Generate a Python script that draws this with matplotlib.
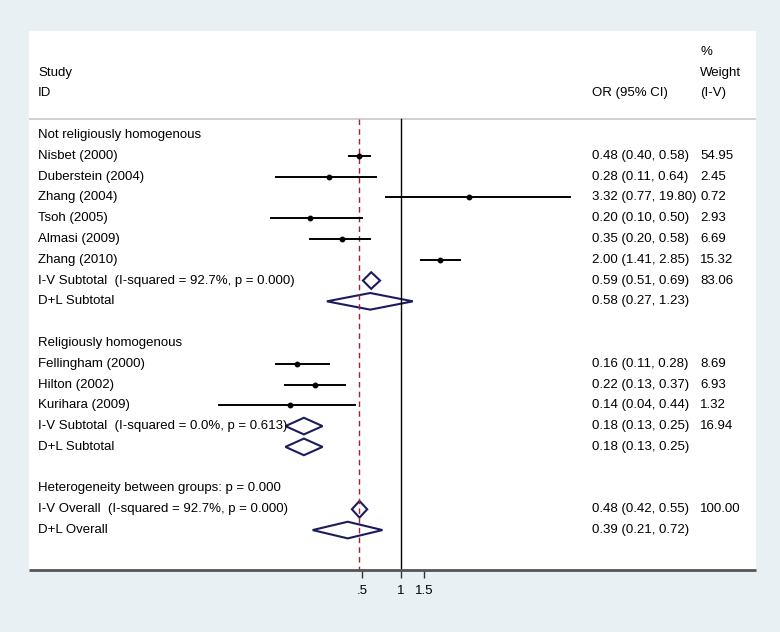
import numpy as np
import matplotlib
matplotlib.use("Agg")
import matplotlib.pyplot as plt
import matplotlib.transforms as mtransforms
from matplotlib.patches import Polygon

plt.rcParams['font.family'] = ['Liberation Sans', 'DejaVu Sans']

# rows of the forest plot, top to bottom
labels = [
    "Not religiously homogenous",
    "Nisbet (2000)", "Duberstein (2004)", "Zhang (2004)", "Tsoh (2005)",
    "Almasi (2009)", "Zhang (2010)",
    "I-V Subtotal  (I-squared = 92.7%, p = 0.000)", "D+L Subtotal",
    "",
    "Religiously homogenous",
    "Fellingham (2000)", "Hilton (2002)", "Kurihara (2009)",
    "I-V Subtotal  (I-squared = 0.0%, p = 0.613)", "D+L Subtotal",
    "",
    "Heterogeneity between groups: p = 0.000",
    "I-V Overall  (I-squared = 92.7%, p = 0.000)", "D+L Overall",
]
# kind: h = heading, s = study, d = diamond, n = nothing
kinds = ["h", "s", "s", "s", "s", "s", "s", "d", "d", "n",
         "h", "s", "s", "s", "d", "d", "n", "h", "d", "d"]
est = [None, 0.48, 0.28, 3.32, 0.20, 0.35, 2.00, 0.59, 0.58, None,
       None, 0.16, 0.22, 0.14, 0.18, 0.18, None, None, 0.48, 0.39]
lo = [None, 0.40, 0.11, 0.77, 0.10, 0.20, 1.41, 0.51, 0.27, None,
      None, 0.11, 0.13, 0.04, 0.13, 0.13, None, None, 0.42, 0.21]
hi = [None, 0.58, 0.64, 19.80, 0.50, 0.58, 2.85, 0.69, 1.23, None,
      None, 0.28, 0.37, 0.44, 0.25, 0.25, None, None, 0.55, 0.72]
weights = ["", "54.95", "2.45", "0.72", "2.93", "6.69", "15.32", "83.06", "", "",
           "", "8.69", "6.93", "1.32", "16.94", "", "", "", "100.00", ""]
overall_iv = 0.48

xticks = [0.5, 1, 1.5]
xticklabels = [".5", "1", "1.5"]

bg = "#e9f0f3"
navy = "#1b1b5e"
red = "#9b2335"
fs = 9.5

fig = plt.figure(figsize=(7.8, 6.32), dpi=100, facecolor=bg)
ax = fig.add_axes([29 / 780, (632 - 570) / 632, 727 / 780, 539 / 632])
ax.set_facecolor("white")
ax.set_xscale("log")
ax.set_xlim(0.00141, 523.6)
ax.set_ylim(20.92, -5.0)

for s in ["top", "left", "right"]:
    ax.spines[s].set_visible(False)
ax.spines["bottom"].set_color("#555555")
ax.spines["bottom"].set_linewidth(2)
ax.spines["bottom"].set_capstyle("butt")
ax.set_yticks([])
ax.set_xticks(xticks)
ax.set_xticklabels(xticklabels, fontsize=fs)
ax.xaxis.set_minor_locator(matplotlib.ticker.NullLocator())
ax.tick_params(axis="x", length=6, width=1, color="#333333", pad=5)

tr = mtransforms.blended_transform_factory(ax.transAxes, ax.transData)

# header
sep = -0.77
ax.axhline(sep, color="#c8c8c8", lw=1.2)
ax.text(0.0124, -3, "Study", transform=tr, fontsize=fs, va="center")
ax.text(0.0124, -2, "ID", transform=tr, fontsize=fs, va="center")
ax.text(0.7744, -2, "OR (95% CI)", transform=tr, fontsize=fs, va="center")
ax.text(0.923, -4, "%", transform=tr, fontsize=fs, va="center")
ax.text(0.923, -3, "Weight", transform=tr, fontsize=fs, va="center")
ax.text(0.923, -2, "(I-V)", transform=tr, fontsize=fs, va="center")

# reference lines
ybot = 20.92
ax.plot([1, 1], [sep, ybot], color="black", lw=1)
ax.plot([overall_iv, overall_iv], [sep, ybot], color=red, lw=1, ls=(0, (4, 3)))

for i, lab in enumerate(labels):
    if lab:
        ax.text(0.0124, i, lab, transform=tr, fontsize=fs, va="center")
    k = kinds[i]
    if k == "s":
        ax.plot([lo[i], hi[i]], [i, i], color="black", lw=1.4)
        ax.plot(est[i], i, "o", color="black", ms=3.2)
    elif k == "d":
        pts = [(lo[i], i), (est[i], i - 0.4), (hi[i], i), (est[i], i + 0.4)]
        ax.add_patch(Polygon(pts, closed=True, fill=False, edgecolor=navy, lw=1.5))
    if est[i] is not None:
        txt = "%.2f (%.2f, %.2f)" % (est[i], lo[i], hi[i])
        ax.text(0.7744, i, txt, transform=tr, fontsize=fs, va="center")
    if weights[i]:
        ax.text(0.923, i, weights[i], transform=tr, fontsize=fs, va="center")

fig.savefig("out.png", dpi=100, facecolor=bg)
